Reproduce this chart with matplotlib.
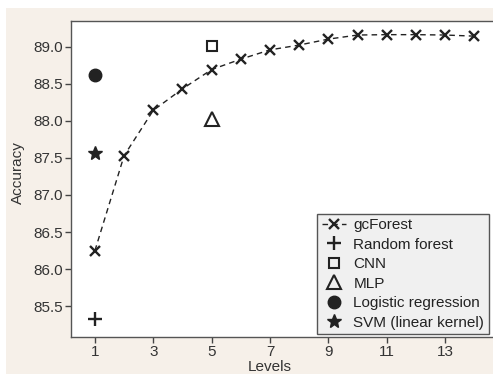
import matplotlib.pyplot as plt
from matplotlib.patches import Rectangle

plt.rcParams['font.family'] = ['Liberation Sans', 'DejaVu Sans']

# gcForest accuracy per cascade level
levels = [1, 2, 3, 4, 5, 6, 7, 8, 9, 10, 11, 12, 13, 14]
gcforest_acc = [86.25, 87.53, 88.14, 88.43, 88.69, 88.83, 88.955, 89.02,
                89.10, 89.155, 89.16, 89.16, 89.155, 89.14]

# baselines (level, accuracy)
rf_x, rf_y = [1], [85.33]
cnn_x, cnn_y = [5], [89.01]
mlp_x, mlp_y = [5], [88.03]
lr_x, lr_y = [1], [88.61]
svm_x, svm_y = [1], [87.56]

xticks = [1, 3, 5, 7, 9, 11, 13]
yticks = [85.5, 86.0, 86.5, 87.0, 87.5, 88.0, 88.5, 89.0]

fig = plt.figure(figsize=(4.93, 3.74), dpi=100)
fig.patch.set_facecolor('white')
# beige panel behind the plot
fig.patches.append(Rectangle((6 / 493, 0), 1, 1 - 8 / 374, transform=fig.transFigure,
                             facecolor='#f6f0e9', edgecolor='none', zorder=-10))

ax = fig.add_axes([71 / 493, 1 - 336.7 / 374, 1 - 71 / 493, (336.7 - 21.3) / 374])
ax.set_facecolor('white')

ink = '#222222'
ax.plot(levels, gcforest_acc, color=ink, linestyle=(0, (4, 3)), linewidth=1,
        marker='x', markersize=7, markeredgewidth=1.7, label='gcForest')
ax.plot(rf_x, rf_y, linestyle='none', marker='+', color=ink, markersize=10,
        markeredgewidth=1.7, label='Random forest')
ax.plot(cnn_x, cnn_y, linestyle='none', marker='s', markerfacecolor='none',
        markeredgecolor=ink, markersize=7.5, markeredgewidth=1.5, label='CNN')
ax.plot(mlp_x, mlp_y, linestyle='none', marker='^', markerfacecolor='none',
        markeredgecolor=ink, markersize=9.5, markeredgewidth=1.5, label='MLP')
ax.plot(lr_x, lr_y, linestyle='none', marker='o', color=ink, markersize=9,
        label='Logistic regression')
ax.plot(svm_x, svm_y, linestyle='none', marker='*', color=ink, markersize=10,
        label='SVM (linear kernel)')

ax.set_xlim(0.18, 14.64)
ax.set_ylim(85.09, 89.34)
ax.set_xticks(xticks)
ax.set_yticks(yticks)
ax.set_yticklabels([f'{v:.1f}' for v in yticks])
ax.tick_params(direction='out', length=4, width=1, colors='#444444', labelsize=11,
               labelcolor='#333333', pad=2)

for side in ['left', 'top', 'bottom']:
    ax.spines[side].set_color('#555555')
    ax.spines[side].set_linewidth(1)
ax.spines['right'].set_visible(False)

ax.set_xlabel('Levels', fontsize=11, color='#333333')
ax.set_ylabel('Accuracy', fontsize=11, color='#333333')
ax.xaxis.set_label_coords(0.472, -0.075)
ax.yaxis.set_label_coords(-0.108, 0.52)

leg = ax.legend(loc='lower right', bbox_to_anchor=(0.99, 0.0075), fontsize=11,
                frameon=True, fancybox=False, handlelength=1.6, handletextpad=0.45,
                borderpad=0.3, labelspacing=0.36, borderaxespad=0.0)
leg.get_frame().set_facecolor('#f0f0f0')
leg.get_frame().set_edgecolor('#555555')
leg.get_frame().set_alpha(1)
for t in leg.get_texts():
    t.set_color(ink)

fig.savefig('out.png', dpi=100)
